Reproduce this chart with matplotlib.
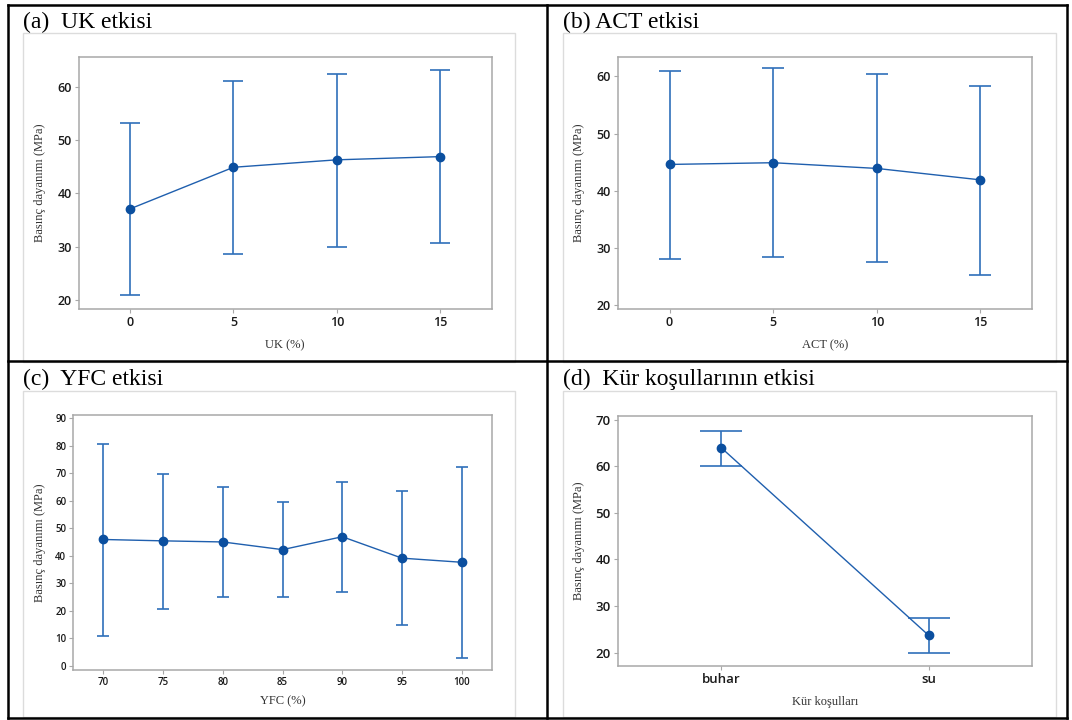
import matplotlib
matplotlib.use("Agg")
import matplotlib.pyplot as plt
from matplotlib.lines import Line2D
from matplotlib.patches import Rectangle

# ----------- veriler -----------
uk_x = [0, 5, 10, 15]
uk_ort = [37.1, 44.9, 46.3, 46.9]
uk_alt = [20.9, 28.6, 29.9, 30.6]
uk_ust = [53.3, 61.1, 62.5, 63.1]

act_x = [0, 5, 10, 15]
act_ort = [44.6, 44.9, 43.9, 41.9]
act_alt = [28.1, 28.4, 27.5, 25.3]
act_ust = [61.0, 61.4, 60.4, 58.3]

yfc_x = [70, 75, 80, 85, 90, 95, 100]
yfc_ort = [45.9, 45.4, 45.0, 42.2, 46.9, 39.1, 37.6]
yfc_alt = [10.9, 20.5, 24.8, 24.8, 26.7, 14.6, 2.9]
yfc_ust = [80.5, 69.7, 64.9, 59.5, 66.8, 63.4, 72.4]

kur_x = ["buhar", "su"]
kur_ort = [64.0, 23.7]
kur_alt = [60.1, 20.0]
kur_ust = [67.6, 27.5]

W, H = 1072, 720
fig = plt.figure(figsize=(W / 100, H / 100), dpi=100)
fig.patch.set_facecolor("white")

SERIF = "Liberation Serif"
SANS = "Open Sans"
BAR = "#2f6fba"
LINE = "#1f5fae"
MARK = "#0b4f9f"


def px_rect(x0, y0, x1, y1):
    # piksel koordinatlarından figür koordinatlarına
    return [x0 / W, 1 - y1 / H, (x1 - x0) / W, (y1 - y0) / H]


def fig_line(x0, y0, x1, y1, **kw):
    fig.add_artist(Line2D([x0 / W, x1 / W], [1 - y0 / H, 1 - y1 / H],
                          transform=fig.transFigure, **kw))


def panel(rect, x, ort, alt, ust, xlim, ylim, yticks, xlabel, capsize,
          tick_size, lab_x, lab_y, xticks=None):
    ax = fig.add_axes(px_rect(*rect))
    yerr = [[o - a for o, a in zip(ort, alt)], [u - o for o, u in zip(ort, ust)]]
    ax.errorbar(x, ort, yerr=yerr, fmt="none", ecolor=BAR, elinewidth=1.2,
                capsize=capsize, capthick=1.2, zorder=2)
    ax.plot(x, ort, color=LINE, lw=1.0, marker="o", ms=6,
            markerfacecolor=MARK, markeredgecolor=MARK, zorder=3)
    ax.set_xlim(*xlim)
    ax.set_ylim(*ylim)
    ax.set_yticks(yticks)
    if xticks is not None:
        ax.set_xticks(xticks)
    for s in ax.spines.values():
        s.set_color("#a8a8a8")
        s.set_linewidth(1.1)
    ax.tick_params(length=3, width=0.8, color="#a8a8a8", pad=2,
                   labelsize=tick_size, labelcolor="#1a1a1a")
    for t in ax.get_xticklabels() + ax.get_yticklabels():
        t.set_fontfamily(SANS)
        t.set_fontweight("semibold")
    ax.set_ylabel("Basınç dayanımı (MPa)", fontfamily=SERIF, fontsize=9,
                  color="#333333")
    ax.set_xlabel(xlabel, fontfamily=SERIF, fontsize=9, color="#333333")
    ax.yaxis.set_label_coords(lab_x, 0.5)
    ax.xaxis.set_label_coords(0.5, lab_y)
    return ax


# iç gri çerçeveler
for x0, y0, x1, y1 in [(23, 33, 515, 362), (563, 33, 1056, 362),
                       (23, 391, 515, 717), (563, 391, 1056, 717)]:
    fig.add_artist(Rectangle((x0 / W, 1 - y1 / H), (x1 - x0) / W, (y1 - y0) / H,
                             transform=fig.transFigure, fill=False,
                             edgecolor="#dcdcdc", lw=1.0))

panel((78.5, 57, 491.7, 309), uk_x, uk_ort, uk_alt, uk_ust, (-2.5, 17.5),
      (18.3, 65.6), [20, 30, 40, 50, 60], "UK (%)", 7.5, 9, -0.079, -0.119,
      xticks=uk_x)
panel((617.7, 57, 1032.2, 309), act_x, act_ort, act_alt, act_ust, (-2.5, 17.5),
      (19.3, 63.4), [20, 30, 40, 50, 60], "ACT (%)", 8.2, 9, -0.078, -0.119,
      xticks=act_x)
panel((73.3, 415, 491.7, 670), yfc_x, yfc_ort, yfc_alt, yfc_ust, (67.5, 102.5),
      (-1.6, 91.2), list(range(0, 91, 10)), "YFC (%)", 4.3, 7, -0.066, -0.101,
      xticks=yfc_x)
panel((617.7, 415.7, 1032.2, 666), kur_x, kur_ort, kur_alt, kur_ust, (-0.5, 1.5),
      (17.1, 70.9), [20, 30, 40, 50, 60, 70], "Kür koşulları", 15, 9.5,
      -0.078, -0.119)

# başlıklar
basliklar = ["(a)  UK etkisi", "(b) ACT etkisi", "(c)  YFC etkisi",
             "(d)  Kür koşullarının etkisi"]
for metin, (bx, by) in zip(basliklar, [(23, 28), (563, 28), (23, 385), (563, 385)]):
    fig.text(bx / W, 1 - by / H, metin, fontfamily=SERIF, fontsize=17,
             color="black", va="baseline", ha="left")

# siyah tablo çizgileri
kw = dict(color="black", lw=1.8, solid_capstyle="projecting")
fig_line(8, 5, 1067, 5, **kw)
fig_line(8, 718, 1067, 718, **kw)
fig_line(8, 5, 8, 718, **kw)
fig_line(1067, 5, 1067, 718, **kw)
fig_line(547, 5, 547, 718, **kw)
fig_line(8, 361, 1067, 361, **kw)

plt.savefig("out.png", dpi=100)
